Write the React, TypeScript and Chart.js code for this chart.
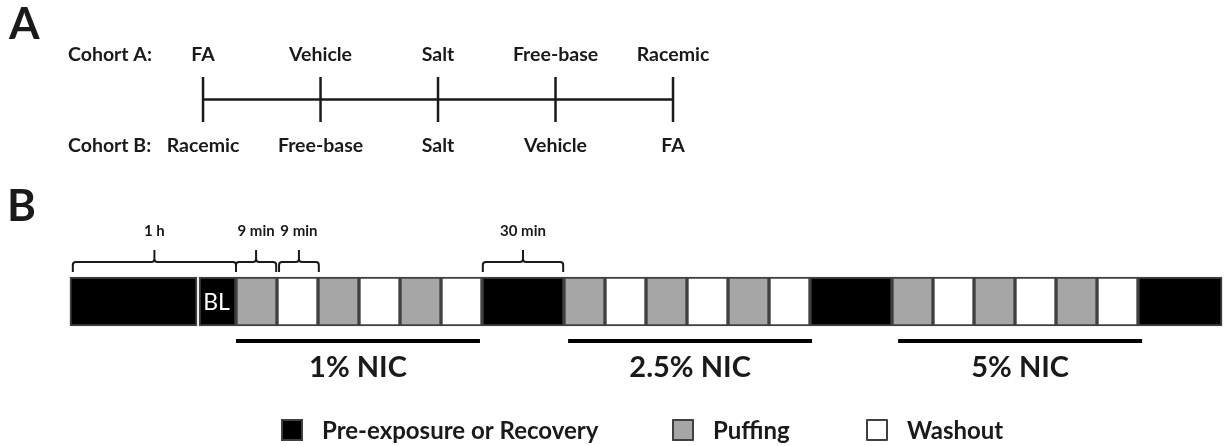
import React, { useEffect, useRef } from "react";
import { Chart, registerables } from "chart.js";

Chart.register(...registerables);

// ---------- Part A: session order ----------
const sessionPositions = [0, 1, 2, 3, 4];
const cohortAOrder = ["FA", "Vehicle", "Salt", "Free-base", "Racemic"];
const cohortBOrder = ["Racemic", "Free-base", "Salt", "Vehicle", "FA"];
const cohortLabels = ["Cohort A:", "Cohort B:"];

// ---------- Part B: protocol timeline (units = one 9-min block) ----------
const preRecoverySegments: [number, number][] = [[-0.05, 3.05], [3.1, 4], [10, 12], [18, 20], [26, 28.05]];
const puffingSegments: [number, number][] = [[4, 5], [6, 7], [8, 9], [12, 13], [14, 15], [16, 17], [20, 21], [22, 23], [24, 25]];
const washoutSegments: [number, number][] = [[5, 6], [7, 8], [9, 10], [13, 14], [15, 16], [17, 18], [21, 22], [23, 24], [25, 26]];
const baselineLabel = "BL";
const baselineBlock: [number, number] = [3.1, 4];

const braceLabels = ["1 h", "9 min", "9 min", "30 min"];
const braceStart = [0.02, 4.0, 5.05, 10.02];
const braceEnd = [4.0, 4.98, 6.02, 11.98];

const nicLabels = ["1% NIC", "2.5% NIC", "5% NIC"];
const nicStart = [4, 12.1, 20.15];
const nicEnd = [9.95, 18.05, 26.1];

const legendLabels = ["Pre-exposure or Recovery", "Puffing", "Washout"];

// ---------- layout (pixel rows on the y scale) ----------
const W = 1231;
const H = 446;
const Y_COHORT_A = 55;
const Y_A_LINE = 99.5;
const Y_COHORT_B = 146;
const Y_BRACE_LABEL = 231;
const Y_BRACE_TIP = 250;
const Y_BRACE_MID = 262;
const Y_BRACE_END = 272;
const Y_BAR = 301.5;
const Y_NIC_LINE = 341;
const Y_NIC_LABEL = 368;
const Y_LEGEND = 430;
const LEGEND_X = [281, 672, 866];

const FONT = '"Lato", "Open Sans", sans-serif';
const BLACK = "#000000";
const GRAY = "#a6a6a6";
const WHITE = "#ffffff";
const EDGE = "#404040";
const INK = "#1a1a1a";

const diagramPlugin = {
  id: "diagram",
  afterDatasetsDraw(chart: any) {
    const ctx: CanvasRenderingContext2D = chart.ctx;
    const x = chart.scales.x;
    const xA = chart.scales.xA;
    const y = chart.scales.y;
    ctx.save();
    ctx.fillStyle = INK;
    ctx.textBaseline = "middle";

    // panel letters
    ctx.textAlign = "left";
    ctx.font = `bold 44px ${FONT}`;
    ctx.fillText("A", 9, y.getPixelForValue(25));
    ctx.fillText("B", 7, y.getPixelForValue(207));

    // cohort row labels
    ctx.font = `bold 19.5px ${FONT}`;
    ctx.fillText(cohortLabels[0], 68, y.getPixelForValue(Y_COHORT_A));
    ctx.fillText(cohortLabels[1], 68, y.getPixelForValue(Y_COHORT_B));

    ctx.textAlign = "center";
    sessionPositions.forEach((p, i) => {
      const px = xA.getPixelForValue(p);
      ctx.fillText(cohortAOrder[i], px, y.getPixelForValue(Y_COHORT_A));
      ctx.fillText(cohortBOrder[i], px, y.getPixelForValue(Y_COHORT_B));
    });

    // braces
    ctx.strokeStyle = INK;
    ctx.lineWidth = 2;
    ctx.lineJoin = "round";
    ctx.font = `bold 15px ${FONT}`;
    braceLabels.forEach((lab, i) => {
      const x0 = x.getPixelForValue(braceStart[i]);
      const x1 = x.getPixelForValue(braceEnd[i]);
      const xc = (x0 + x1) / 2;
      const yb = y.getPixelForValue(Y_BRACE_END);
      const ym = y.getPixelForValue(Y_BRACE_MID);
      const yt = y.getPixelForValue(Y_BRACE_TIP);
      const r = 3;
      ctx.beginPath();
      ctx.moveTo(x0, yb);
      ctx.lineTo(x0, ym + r);
      ctx.quadraticCurveTo(x0, ym, x0 + r, ym);
      ctx.lineTo(xc - r, ym);
      ctx.quadraticCurveTo(xc, ym, xc, ym - r);
      ctx.lineTo(xc, yt);
      ctx.moveTo(xc, ym - r);
      ctx.quadraticCurveTo(xc, ym, xc + r, ym);
      ctx.lineTo(x1 - r, ym);
      ctx.quadraticCurveTo(x1, ym, x1, ym + r);
      ctx.lineTo(x1, yb);
      ctx.stroke();
      ctx.fillText(lab, xc, y.getPixelForValue(Y_BRACE_LABEL));
    });

    // BL label
    ctx.fillStyle = WHITE;
    ctx.font = `23px ${FONT}`;
    ctx.fillText(
      baselineLabel,
      x.getPixelForValue((baselineBlock[0] + baselineBlock[1]) / 2) - 1,
      y.getPixelForValue(Y_BAR + 1)
    );

    // NIC labels
    ctx.fillStyle = INK;
    ctx.font = `bold 29px ${FONT}`;
    nicLabels.forEach((lab, i) => {
      ctx.fillText(lab, x.getPixelForValue((nicStart[i] + nicEnd[i]) / 2), y.getPixelForValue(Y_NIC_LABEL));
    });

    // legend
    const fills = [BLACK, GRAY, WHITE];
    ctx.textAlign = "left";
    ctx.font = `bold 24px ${FONT}`;
    legendLabels.forEach((lab, i) => {
      const lx = LEGEND_X[i];
      const cy = y.getPixelForValue(Y_LEGEND);
      ctx.fillStyle = fills[i];
      ctx.fillRect(lx, cy - 11, 22, 22);
      ctx.strokeStyle = EDGE;
      ctx.lineWidth = 2;
      ctx.strokeRect(lx + 1, cy - 10, 20, 20);
      ctx.fillStyle = INK;
      ctx.fillText(lab, lx + 41, cy + 1);
    });

    ctx.restore();
  },
};

const barDataset = (label: string, segs: [number, number][], color: string) => ({
  type: "bar" as const,
  label,
  indexAxis: "y" as const,
  xAxisID: "x",
  yAxisID: "y",
  data: segs.map((s) => ({ x: s, y: Y_BAR })),
  backgroundColor: color,
  borderColor: EDGE,
  borderWidth: 2,
  borderSkipped: false,
  barThickness: 49,
  grouped: false,
});

const nicLine = (i: number) => ({
  type: "line" as const,
  label: nicLabels[i],
  xAxisID: "x",
  yAxisID: "y",
  data: [
    { x: nicStart[i], y: Y_NIC_LINE },
    { x: nicEnd[i], y: Y_NIC_LINE },
  ],
  borderColor: BLACK,
  borderWidth: 4,
  pointRadius: 0,
});

export default function App() {
  const ref = useRef<HTMLCanvasElement | null>(null);

  useEffect(() => {
    if (!ref.current) return;
    const chart = new Chart(ref.current, {
      type: "bar",
      data: {
        datasets: [
          {
            type: "line",
            label: "Session order",
            xAxisID: "xA",
            yAxisID: "y",
            data: sessionPositions.map((p) => ({ x: p, y: Y_A_LINE })),
            borderColor: INK,
            borderWidth: 2.5,
            pointStyle: "line",
            pointRotation: 90,
            pointRadius: 22.5,
            pointBorderWidth: 2.5,
            pointBorderColor: INK,
          } as any,
          barDataset(legendLabels[0], preRecoverySegments, BLACK),
          barDataset(legendLabels[1], puffingSegments, GRAY),
          barDataset(legendLabels[2], washoutSegments, WHITE),
          nicLine(0),
          nicLine(1),
          nicLine(2),
        ] as any,
      },
      options: {
        responsive: false,
        animation: false,
        events: [],
        layout: { padding: 0, autoPadding: false },
        plugins: { legend: { display: false }, tooltip: { enabled: false } },
        scales: {
          x: { type: "linear", axis: "x", offset: false, min: -1.756, max: 28.268, display: false },
          xA: { type: "linear", axis: "x", offset: false, min: -1.728, max: 8.749, display: false },
          y: { type: "linear", axis: "y", offset: false, min: 0, max: H, reverse: true, display: false },
        },
      } as any,
      plugins: [diagramPlugin],
    });
    return () => chart.destroy();
  }, []);

  return (
    <div style={{ position: "absolute", left: 0, top: 0, width: W, height: H, background: "#ffffff" }}>
      <canvas ref={ref} width={W} height={H} style={{ display: "block" }} />
    </div>
  );
}
